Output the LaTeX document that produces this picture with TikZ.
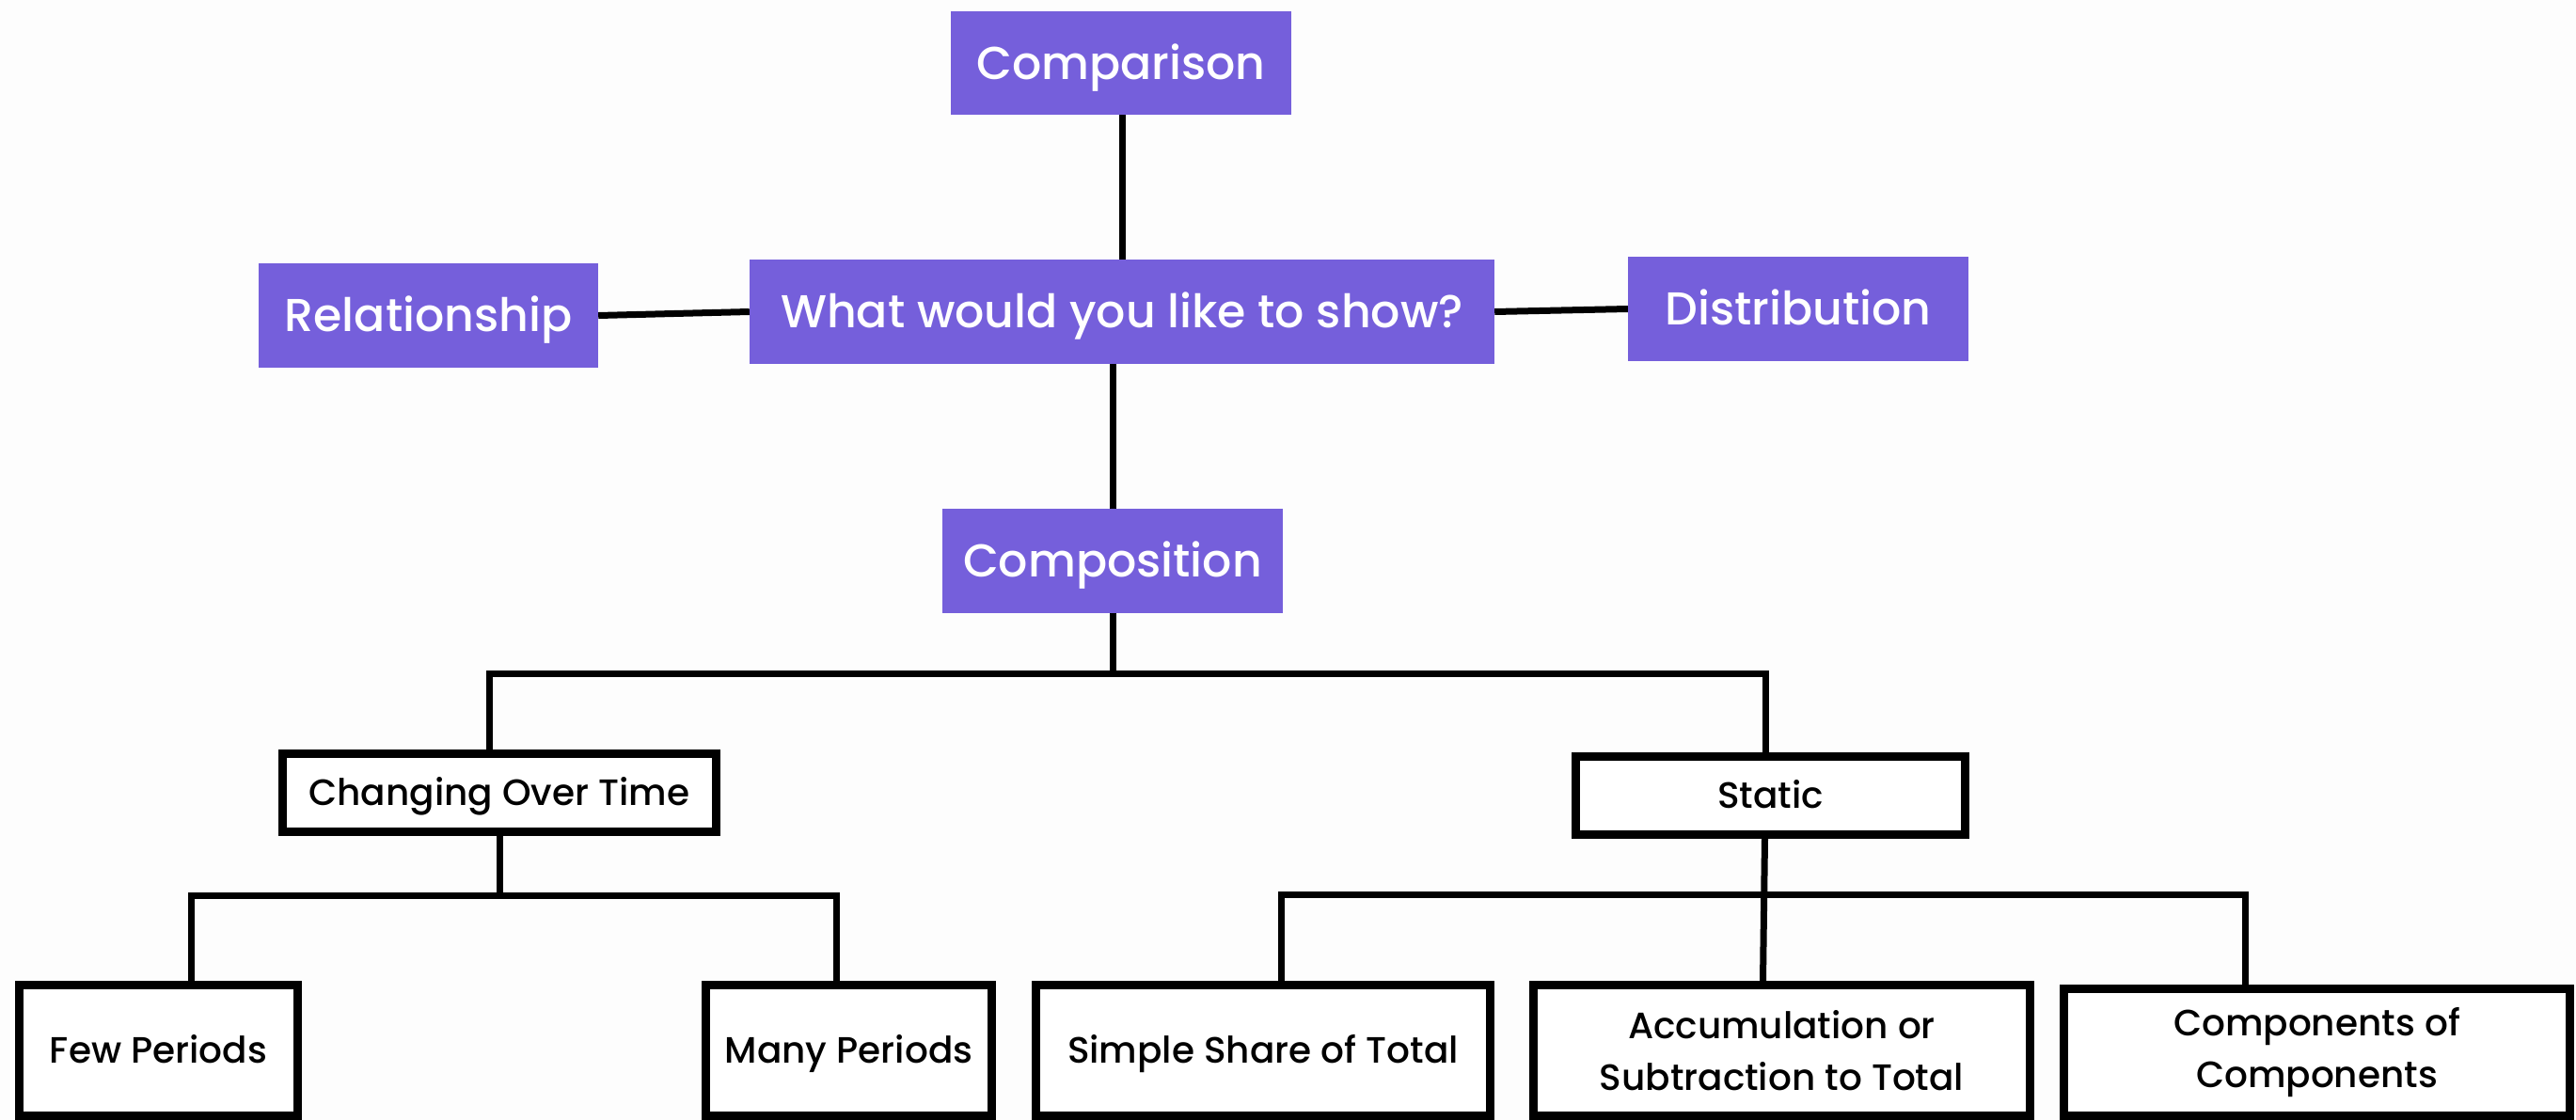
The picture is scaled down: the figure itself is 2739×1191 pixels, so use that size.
\documentclass[tikz,border=0pt]{standalone}
\usepackage{fontspec}
\setmainfont{Poppins Medium}
\usetikzlibrary{positioning}
\definecolor{chartpurple}{RGB}{117,95,219}
\definecolor{paper}{RGB}{253,253,253}
\tikzset{
  topic/.style={fill=chartpurple, text=white, inner sep=0pt, minimum height=111pt,
    text height=34pt, text depth=0pt, font=\fontsize{49}{58}\selectfont},
  choice/.style={draw=black, line width=9pt, fill=white, inner sep=0pt, align=center,
    font=\fontsize{39}{55}\selectfont},
  oneline/.style={choice, text height=27pt, text depth=0pt},
  link/.style={draw=black, line width=7pt, line join=miter}
}
\begin{document}
\begin{tikzpicture}[x=1pt, y=-1pt]
  % page frame
  \fill[paper] (0,0) rectangle (2739,1191);
  \useasboundingbox (0,0) rectangle (2739,1191);
  \clip (0,0) rectangle (2739,1191);

  % top level: the question and its four answers
  \node[topic, minimum width=362pt, minimum height=110pt] (cmp)  at (1192,67)    {Comparison};
  \node[topic, minimum width=361pt] (rel)  at (455.5,335.5) {Relationship};
  \node[topic, minimum width=792pt] (q)    at (1193,331.5)  {What would you like to show?};
  \node[topic, minimum width=362pt] (dist) at (1912,328.5)  {Distribution};
  \node[topic, minimum width=362pt] (comp) at (1183,596.5)  {Composition};

  % second level
  \node[oneline, minimum width=461pt, minimum height=83pt] (chg) at (531,843)    {Changing Over Time};
  \node[oneline, minimum width=414pt, minimum height=83pt] (sta) at (1882.5,846) {Static};

  % leaves
  \node[oneline, minimum width=296pt, minimum height=139pt] (few)    at (168.5,1117) {Few Periods};
  \node[oneline, minimum width=304pt, minimum height=139pt] (many)   at (902.5,1117) {Many Periods};
  \node[oneline, minimum width=483pt, minimum height=139pt] (simple) at (1343,1117)  {Simple Share of Total};
  \node[choice, minimum width=528pt, minimum height=139pt] (acc)    at (1894.5,1117) {Accumulation or\\Subtraction to Total};
  \node[choice, minimum width=538pt, minimum height=135pt] (cmpc)   at (2463.5,1119) {Components of\\Components};

  % connectors around the question
  \draw[link] (cmp.south -| q.north) -- (q.north);
  \draw[link] (rel.east) -- (q.west);
  \draw[link] (q.east) -- (dist.west);
  \draw[link] (comp.north |- q.south) -- (comp.north);

  % composition split
  \path (comp.south) ++(0,64) coordinate (j1);
  \draw[link] (comp.south) -- (j1);
  \draw[link] ([xshift=-11pt]chg.north) |- (j1) -| ([xshift=-5pt]sta.north);

  % changing over time split
  \path (chg.south) ++(0,63) coordinate (j2);
  \draw[link] (chg.south) -- (j2);
  \draw[link] ([xshift=35pt]few.north) |- (j2) -| ([xshift=-13pt]many.north);

  % static split
  \path ([xshift=-6pt]sta.south) ++(0,59) coordinate (j3);
  \draw[link] ([xshift=-6pt]sta.south) -- ([xshift=-20pt]acc.north);
  \draw[link] ([xshift=19pt]simple.north) |- (j3) -| ([xshift=-76pt]cmpc.north);
\end{tikzpicture}
\end{document}
